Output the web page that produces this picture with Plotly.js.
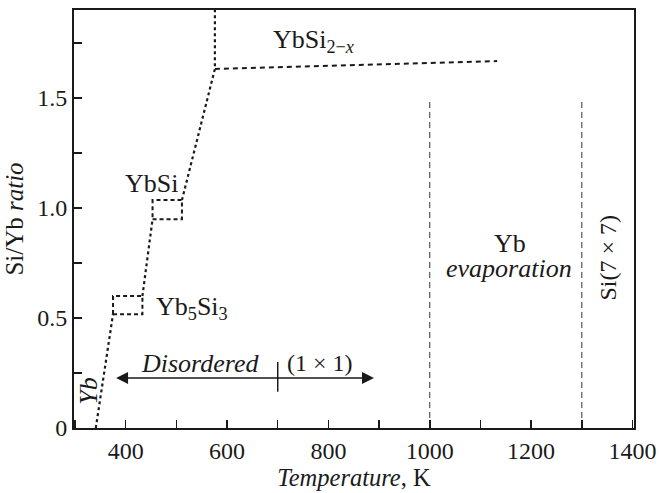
<!DOCTYPE html>
<html>
<head>
<meta charset="utf-8">
<script src="https://cdn.plot.ly/plotly-3.0.1.min.js"></script>
<style>html,body{margin:0;padding:0;background:#fff;}#chart{width:659px;height:493px;}</style>
</head>
<body>
<div id="chart"></div>
<script>
// Phase boundary (dotted) segments, temperature (K) and Si/Yb ratio
const boundaryT     = [341, 375, null, 433, 453, null, 511, 576, 576];
const boundaryRatio = [0, 0.517, null, 0.60, 0.949, null, 1.036, 1.632, 1.9];
// Yb5Si3 and YbSi boxes
const boxT     = [375, 433, 433, 375, 375, null, 453, 511, 511, 453, 453];
const boxRatio = [0.517, 0.517, 0.60, 0.60, 0.517, null, 0.949, 0.949, 1.036, 1.036, 0.949];
// YbSi2-x line
const silicideT     = [576, 1133];
const silicideRatio = [1.632, 1.668];
// Vertical limits: Yb evaporation and Si(7x7)
const limitT     = [1000, 1000, null, 1300, 1300];
const limitRatio = [0, 1.5, null, 0, 1.5];
// Disordered / (1x1) arrow
const arrowT = [378, 890];
const arrowRatio = 0.227;
const dividerT = [700, 700];
const dividerRatio = [0.165, 0.30];
// Ticks
const xTickVals = [400, 600, 800, 1000, 1200, 1400];
const xTickText = ['400', '600', '800', '1000', '1200', '1400'];
const yTickVals = [0, 0.5, 1.0, 1.5];
const yTickText = ['0', '0.5', '1.0', '1.5'];
// Labels
const labels = [
  {text: 'YbSi<sub>2−<i>x</i></sub>', T: 686, r: 1.76, xanchor: 'left', angle: 0, size: 26},
  {text: 'YbSi', T: 450, r: 1.112, xanchor: 'center', angle: 0, size: 26},
  {text: 'Yb<sub>5</sub>Si<sub>3</sub>', T: 456, r: 0.545, xanchor: 'left', angle: 0, size: 26},
  {text: '<i>Yb</i>', T: 325, r: 0.168, xanchor: 'center', angle: -90, size: 26},
  {text: '<i>Disordered</i>', T: 548, r: 0.295, xanchor: 'center', angle: 0, size: 26},
  {text: '(1 × 1)', T: 784, r: 0.295, xanchor: 'center', angle: 0, size: 24},
  {text: 'Yb', T: 1158, r: 0.84, xanchor: 'center', angle: 0, size: 26},
  {text: '<i>evaporation</i>', T: 1156, r: 0.727, xanchor: 'center', angle: 0, size: 26},
  {text: 'Si(7 × 7)', T: 1351, r: 0.773, xanchor: 'center', angle: -90, size: 24}
];

const FONT = '"Liberation Serif", "Times New Roman", serif';
const ink = '#1a1a1a';

const traces = [
  {x: boundaryT, y: boundaryRatio, mode: 'lines', line: {color: ink, width: 2.2, dash: '3px,3px'}, hoverinfo: 'skip'},
  {x: boxT, y: boxRatio, mode: 'lines', line: {color: ink, width: 2, dash: '4px,3px'}, hoverinfo: 'skip'},
  {x: silicideT, y: silicideRatio, mode: 'lines', line: {color: ink, width: 2, dash: '5px,4px'}, hoverinfo: 'skip'},
  {x: limitT, y: limitRatio, mode: 'lines', line: {color: '#333', width: 1, dash: '6px,4px'}, hoverinfo: 'skip'},
  {x: dividerT, y: dividerRatio, mode: 'lines', line: {color: ink, width: 1.5}, hoverinfo: 'skip'}
];

const annotations = labels.map(l => ({
  x: l.T, y: l.r, xref: 'x', yref: 'y', text: l.text, showarrow: false,
  xanchor: l.xanchor, yanchor: 'middle', textangle: l.angle,
  font: {family: FONT, size: l.size, color: ink}
}));
annotations.push({
  x: arrowT[1], y: arrowRatio, ax: arrowT[0], ay: arrowRatio, axref: 'x', ayref: 'y',
  xref: 'x', yref: 'y', text: '', showarrow: true, arrowhead: 2, arrowside: 'end+start',
  arrowsize: 1.6, arrowwidth: 1.5, arrowcolor: ink, standoff: 0, startstandoff: 0
});

const axisCommon = {
  showgrid: false, zeroline: false, showline: true, linecolor: ink, linewidth: 2,
  mirror: true, ticks: 'inside', ticklen: 8, tickwidth: 1.5, tickcolor: ink,
  tickfont: {family: FONT, size: 24, color: ink}
};

const layout = {
  width: 659, height: 493,
  margin: {l: 74, r: 25, t: 10, b: 65},
  paper_bgcolor: '#fff', plot_bgcolor: '#fff',
  showlegend: false,
  font: {family: FONT, size: 24, color: ink},
  xaxis: Object.assign({}, axisCommon, {
    range: [298, 1403], tickmode: 'array', tickvals: xTickVals, ticktext: xTickText,
    minor: {dtick: 100, tick0: 300, ticks: 'inside', ticklen: 8, tickwidth: 1.5, tickcolor: ink},
    title: {text: '<i>Temperature</i>, K', font: {family: FONT, size: 24.5, color: ink}, standoff: 4}
  }),
  yaxis: Object.assign({}, axisCommon, {
    range: [0, 1.9], tickmode: 'array', tickvals: yTickVals, ticktext: yTickText,
    minor: {dtick: 0.25, tick0: 0, ticks: 'inside', ticklen: 8, tickwidth: 1.5, tickcolor: ink},
    title: {text: 'Si/Yb <i>ratio</i>', font: {family: FONT, size: 25, color: ink}, standoff: 6}
  }),
  annotations: annotations
};

Plotly.newPlot('chart', traces, layout, {displayModeBar: false, staticPlot: true});
</script>
</body>
</html>
